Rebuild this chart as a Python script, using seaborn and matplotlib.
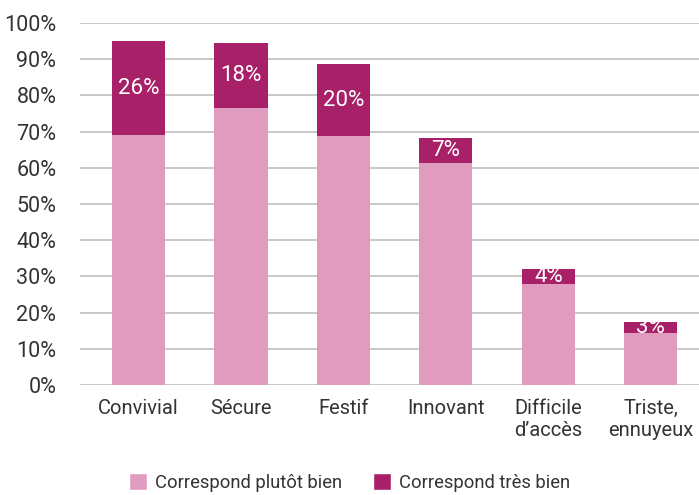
import matplotlib
matplotlib.use("Agg")
import matplotlib.pyplot as plt
from matplotlib.patches import Patch
import seaborn as sns
import pandas as pd

categories = ["Convivial", "Sécure", "Festif", "Innovant", "Difficile\nd’accès", "Triste,\nennuyeux"]
plutot_bien = [69.0, 76.5, 68.7, 61.3, 28.0, 14.5]
tres_bien = [26, 18, 20, 7, 4, 3]
y_ticks = list(range(0, 101, 10))

LIGHT = "#e09cbf"
DARK = "#a82168"
TEXT = "#333333"

sns.set_theme(style="white")
plt.rcParams["font.family"] = ["Roboto", "DejaVu Sans"]

df = pd.DataFrame({
    "categorie": categories,
    "plutot": plutot_bien,
    "tres": tres_bien,
})
df["total"] = df["plutot"] + df["tres"]

fig = plt.figure(figsize=(6.99, 4.95), dpi=100)
ax = fig.add_axes([0.1144, 0.222, 0.8856, 0.7315])

sns.barplot(data=df, x="categorie", y="total", color=DARK, width=0.52,
            saturation=1, linewidth=0, edgecolor="none", ax=ax, zorder=3)
sns.barplot(data=df, x="categorie", y="plutot", color=LIGHT, width=0.52,
            saturation=1, linewidth=0, edgecolor="none", ax=ax, zorder=4)

for i, row in df.iterrows():
    ax.text(i, row["plutot"] + row["tres"] / 2, f"{row['tres']}%",
            ha="center", va="center", color="white", fontsize=16, zorder=5)

ax.set_ylim(0, 100)
ax.set_xlim(-0.57, 5.47)
ax.set_yticks(y_ticks)
ax.set_yticklabels([f"{v}%" for v in y_ticks], fontsize=15.5, color=TEXT)
ax.tick_params(axis="x", labelsize=14.5, colors=TEXT, pad=10, length=0)
ax.tick_params(axis="y", length=0, pad=17)
ax.set_xlabel("")
ax.set_ylabel("")
ax.grid(axis="y", color="#c8c8c8", linewidth=1.4, zorder=0)
for s in ax.spines.values():
    s.set_visible(False)

handles = [Patch(facecolor=LIGHT, label="Correspond plutôt bien"),
           Patch(facecolor=DARK, label="Correspond très bien")]
fig.legend(handles=handles, loc="lower center", bbox_to_anchor=(0.5, -0.027),
           ncol=2, frameon=False, fontsize=13.2, handlelength=0.95, handleheight=1.1,
           handletextpad=0.45, columnspacing=1.7, labelcolor=TEXT)

fig.savefig("out.png", dpi=100)
